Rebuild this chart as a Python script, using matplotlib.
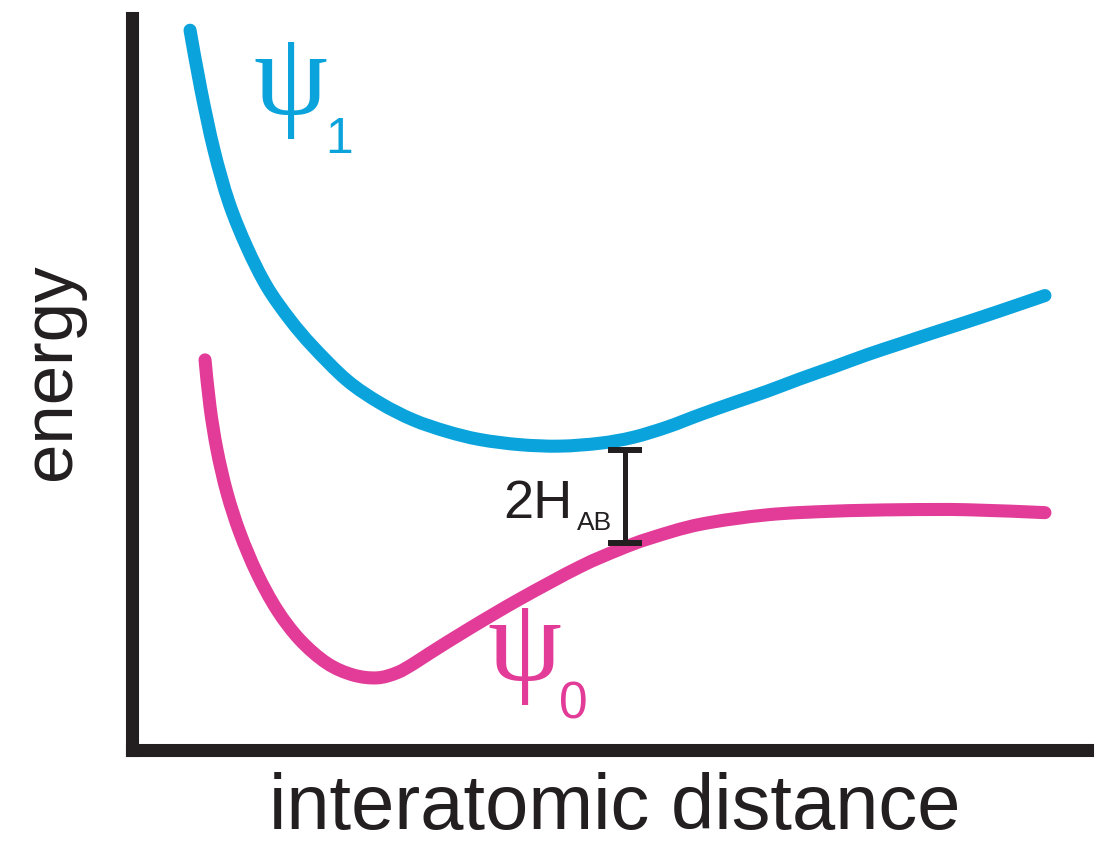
import matplotlib
matplotlib.use("Agg")
import matplotlib.pyplot as plt
from matplotlib.path import Path
from matplotlib.patches import PathPatch

# ---- data (arbitrary units) ----
psi1_x = [0.613, 0.728, 0.864, 1.021, 1.209, 1.419, 1.660, 1.901, 2.257, 2.602,
          2.948, 3.304, 3.649, 4.068, 4.487, 4.906, 5.251, 5.607, 5.953, 6.298,
          6.654, 7.000, 7.346, 7.702, 8.047, 8.393, 8.749, 9.094, 9.565]
psi1_y = [9.84, 9.02, 8.20, 7.48, 6.87, 6.33, 5.88, 5.51, 5.05, 4.74,
          4.51, 4.35, 4.24, 4.17, 4.15, 4.19, 4.27, 4.41, 4.58, 4.74,
          4.90, 5.07, 5.23, 5.40, 5.55, 5.70, 5.85, 6.00, 6.21]

psi0_x = [0.770, 0.822, 0.895, 1.000, 1.136, 1.314, 1.524, 1.764, 2.047, 2.319,
          2.571, 2.780, 2.948, 3.126, 3.545, 4.068, 4.696, 5.115, 5.429, 5.953,
          6.654, 7.346, 8.047, 8.749, 9.565]
psi0_y = [5.33, 4.69, 4.10, 3.51, 2.96, 2.41, 1.91, 1.50, 1.18, 1.02,
          0.98, 1.05, 1.17, 1.32, 1.66, 2.06, 2.50, 2.74, 2.89, 3.08,
          3.21, 3.26, 3.28, 3.28, 3.24]

gap_x = 5.168
gap_low = 2.82
gap_high = 4.10

BLUE = "#0aa3dc"
PINK = "#e23b98"
DARK = "#231f20"

W, H = 1102, 846
fig = plt.figure(figsize=(W / 100, H / 100), dpi=100)
fig.patch.set_facecolor("white")

# axes placement in pixels
left_px, right_px, top_px, bottom_px = 131.5, 1086.5, 18.5, 749.5
ax = fig.add_axes([left_px / W, (H - bottom_px) / H,
                   (right_px - left_px) / W, (bottom_px - top_px) / H])
ax.set_xlim(0, 10)
ax.set_ylim(0, 10)
ax.set_xticks([])
ax.set_yticks([])
for s in ["top", "right"]:
    ax.spines[s].set_visible(False)
for s in ["left", "bottom"]:
    ax.spines[s].set_linewidth(9.4)
    ax.spines[s].set_color(DARK)
    ax.spines[s].set_capstyle("projecting")


def smooth_path(xs, ys):
    """Cubic Bezier path (Catmull-Rom style) passing through the data points."""
    pts = list(zip(xs, ys))
    n = len(pts)
    verts = [pts[0]]
    codes = [Path.MOVETO]
    for i in range(n - 1):
        p0 = pts[i - 1] if i > 0 else pts[i]
        p1 = pts[i]
        p2 = pts[i + 1]
        p3 = pts[i + 2] if i + 2 < n else pts[i + 1]
        c1 = (p1[0] + (p2[0] - p0[0]) / 6, p1[1] + (p2[1] - p0[1]) / 6)
        c2 = (p2[0] - (p3[0] - p1[0]) / 6, p2[1] - (p3[1] - p1[1]) / 6)
        verts += [c1, c2, p2]
        codes += [Path.CURVE4] * 3
    return Path(verts, codes)


lw = 9.4
for xs, ys, col in [(psi1_x, psi1_y, BLUE), (psi0_x, psi0_y, PINK)]:
    patch = PathPatch(smooth_path(xs, ys), facecolor="none", edgecolor=col,
                      lw=lw, capstyle="round", joinstyle="round", clip_on=False)
    ax.add_patch(patch)

mid = (gap_low + gap_high) / 2
half = (gap_high - gap_low) / 2
ax.errorbar([gap_x], [mid], yerr=[[half], [half]], fmt="none",
            ecolor=DARK, elinewidth=3.6, capsize=12, capthick=4.3)


def px2d(px, py):
    return (px - left_px) / 95.5, (bottom_px - py) / 73.1


sans = "Liberation Sans"
serif = "Liberation Serif"

x, y = px2d(572, 518)
ax.text(x, y, "2H", fontsize=39, family=sans, color=DARK, ha="right", va="baseline")
x, y = px2d(577, 530)
ax.text(x, y, "AB", fontsize=19, family=sans, color=DARK, ha="left", va="baseline")

# psi labels
x, y = px2d(290, 85)
ax.text(x, y, "\u03c8", fontsize=85, family=serif, color=BLUE,
        ha="center", va="center")
x, y = px2d(325, 153)
ax.text(x, y, "1", fontsize=36, family=sans, color=BLUE, ha="left", va="baseline")

x, y = px2d(524, 651)
ax.text(x, y, "\u03c8", fontsize=85, family=serif, color=PINK,
        ha="center", va="center")
x, y = px2d(559, 718)
ax.text(x, y, "0", fontsize=37, family=sans, color=PINK, ha="left", va="baseline")

fig.text(52 / W, 1 - 372 / H, "energy", rotation=90, fontsize=51, family=sans,
         color=DARK, ha="center", va="center")
fig.text(615 / W, 1.5 / H, "interatomic distance", fontsize=56, family=sans,
         color=DARK, ha="center", va="bottom")

fig.savefig("out.png", dpi=100, facecolor="white")
